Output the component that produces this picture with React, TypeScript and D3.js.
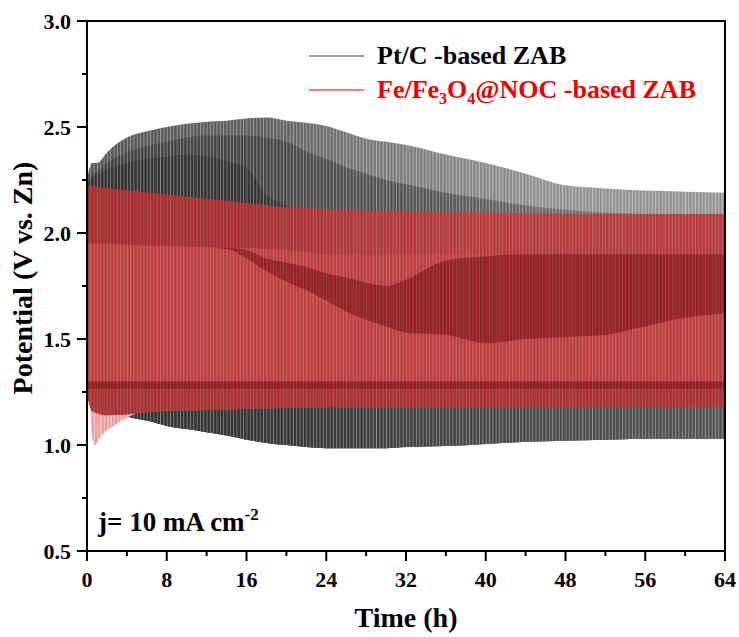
import React from "react";
import * as d3 from "d3";

// ---------- data ----------
const T = [0, 0.5, 1, 2, 4, 6, 8, 10, 12, 14, 16, 18, 20, 22, 24, 26, 28, 30, 32, 36, 40, 44, 48, 52, 56, 60, 64];

// Pt/C-based ZAB : charge maximum, light/medium boundary, medium/dark boundary, discharge minimum
const ptcHigh = [2.25, 2.33, 2.33, 2.38, 2.45, 2.48, 2.5, 2.515, 2.525, 2.53, 2.54, 2.545, 2.53, 2.52, 2.505, 2.475, 2.445, 2.43, 2.415, 2.37, 2.33, 2.28, 2.225, 2.21, 2.2, 2.195, 2.19];
const ptcMid1 = [2.22, 2.28, 2.29, 2.33, 2.38, 2.41, 2.43, 2.45, 2.46, 2.46, 2.46, 2.45, 2.43, 2.385, 2.35, 2.31, 2.28, 2.25, 2.23, 2.19, 2.16, 2.13, 2.11, 2.095, 2.09, 2.09, 2.09];
const ptcMid2 = [2.2, 2.26, 2.27, 2.3, 2.33, 2.35, 2.36, 2.37, 2.36, 2.34, 2.31, 2.18, 2.13, 2.05, 2.0, 2.0, 2.0, 2.0, 2.0, 2.0, 2.0, 2.0, 2.0, 2.0, 2.0, 2.0, 2.0];
const ptcLow = [1.25, 1.22, 1.2, 1.17, 1.135, 1.115, 1.09, 1.075, 1.06, 1.045, 1.025, 1.01, 1.0, 0.99, 0.985, 0.985, 0.985, 0.985, 0.99, 0.995, 1.005, 1.015, 1.02, 1.025, 1.03, 1.03, 1.03];

// Fe/Fe3O4@NOC-based ZAB : charge maximum, discharge minimum and inner bands
const feHigh = [2.22, 2.22, 2.215, 2.21, 2.2, 2.19, 2.18, 2.17, 2.16, 2.15, 2.14, 2.13, 2.12, 2.115, 2.11, 2.107, 2.105, 2.102, 2.1, 2.097, 2.095, 2.092, 2.09, 2.09, 2.09, 2.09, 2.09];
const feLow = [1.24, 1.16, 1.15, 1.14, 1.145, 1.155, 1.16, 1.163, 1.165, 1.168, 1.17, 1.172, 1.174, 1.176, 1.178, 1.178, 1.178, 1.178, 1.178, 1.178, 1.178, 1.178, 1.178, 1.178, 1.178, 1.178, 1.178];
const feTopBandLow = [1.95, 1.95, 1.95, 1.95, 1.945, 1.94, 1.94, 1.935, 1.935, 1.93, 1.93, 1.925, 1.92, 1.91, 1.9, 1.9, 1.9, 1.9, 1.9, 1.9, 1.9, 1.9, 1.9, 1.9, 1.9, 1.9, 1.9];
const feDarkTop = [1.93, 1.93, 1.93, 1.93, 1.93, 1.93, 1.93, 1.93, 1.93, 1.93, 1.92, 1.88, 1.86, 1.84, 1.81, 1.79, 1.765, 1.75, 1.78, 1.87, 1.89, 1.9, 1.9, 1.9, 1.9, 1.9, 1.9];
const feDarkBot = [1.93, 1.93, 1.93, 1.93, 1.93, 1.93, 1.93, 1.93, 1.93, 1.925, 1.88, 1.82, 1.77, 1.73, 1.68, 1.63, 1.59, 1.56, 1.53, 1.52, 1.48, 1.5, 1.51, 1.52, 1.56, 1.6, 1.62];
const fePlateauTop = [1.3, 1.3, 1.3, 1.3, 1.3, 1.3, 1.3, 1.3, 1.3, 1.3, 1.3, 1.3, 1.3, 1.3, 1.3, 1.3, 1.3, 1.3, 1.3, 1.3, 1.3, 1.3, 1.3, 1.3, 1.3, 1.3, 1.3];
const fePlateauBot = [1.265, 1.265, 1.265, 1.265, 1.265, 1.265, 1.265, 1.265, 1.265, 1.265, 1.265, 1.265, 1.265, 1.265, 1.265, 1.265, 1.265, 1.265, 1.265, 1.265, 1.265, 1.265, 1.265, 1.265, 1.265, 1.265, 1.265];

// early discharge spikes of the Fe/Fe3O4@NOC cell
const spikeT = [0.3, 0.5, 0.8, 1.2, 2, 3, 4, 5];
const spikeLow = [1.2, 1.05, 1.0, 1.03, 1.07, 1.1, 1.13, 1.15];
const spikeTop = [1.22, 1.17, 1.155, 1.15, 1.14, 1.143, 1.145, 1.15];

const xTicks = [0, 8, 16, 24, 32, 40, 48, 56, 64];
const xMinor = [4, 12, 20, 28, 36, 44, 52, 60];
const yTicks = [0.5, 1.0, 1.5, 2.0, 2.5, 3.0];
const yMinor = [0.75, 1.25, 1.75, 2.25, 2.75];

const seriesNames = ["Pt/C -based ZAB", "Fe/Fe3O4@NOC -based ZAB"];

// ---------- layout ----------
const W = 739, H = 637;
const L = 87, R = 725, TOP = 21, BOT = 551;
const FONT = "'Liberation Serif', 'Times New Roman', serif";

export default function App() {
  const x = d3.scaleLinear().domain([0, 64]).range([L, R]);
  const y = d3.scaleLinear().domain([0.5, 3.0]).range([BOT, TOP]);

  const band = (lo: number[], hi: number[], ts: number[] = T) =>
    d3.area<number>()
      .x((_, i) => x(ts[i]))
      .y0((_, i) => y(lo[i]))
      .y1((_, i) => y(hi[i]))
      .curve(d3.curveMonotoneX)(ts.map((_, i) => i)) || "";

  const period = (x(64) - x(0)) / 192;

  const gx = (t: number) => ((x(t) - L) / (R - L)) * 100 + "%";

  return (
    <svg width={W} height={H} style={{ position: "absolute", left: 0, top: 0, background: "#fff" }} fontFamily={FONT}>
      <defs>
        <clipPath id="plot"><rect x={L} y={TOP} width={R - L} height={BOT - TOP} /></clipPath>
        <linearGradient id="gLight" gradientUnits="userSpaceOnUse" x1={L} x2={R} y1={0} y2={0}>
          <stop offset={gx(0)} stopColor="#5c5c5c" />
          <stop offset={gx(18)} stopColor="#646464" />
          <stop offset={gx(26)} stopColor="#7a7a7a" />
          <stop offset={gx(34)} stopColor="#888888" />
          <stop offset={gx(46)} stopColor="#989898" />
          <stop offset={gx(64)} stopColor="#9b9b9b" />
        </linearGradient>
        <linearGradient id="gMid" gradientUnits="userSpaceOnUse" x1={L} x2={R} y1={0} y2={0}>
          <stop offset={gx(0)} stopColor="#454545" />
          <stop offset={gx(18)} stopColor="#4a4a4a" />
          <stop offset={gx(26)} stopColor="#545454" />
          <stop offset={gx(36)} stopColor="#5d5d5d" />
          <stop offset={gx(46)} stopColor="#707070" />
          <stop offset={gx(64)} stopColor="#737373" />
        </linearGradient>
        <linearGradient id="gDark" gradientUnits="userSpaceOnUse" x1={L} x2={R} y1={0} y2={0}>
          <stop offset={gx(0)} stopColor="#363636" />
          <stop offset={gx(20)} stopColor="#383838" />
          <stop offset={gx(30)} stopColor="#434343" />
          <stop offset={gx(44)} stopColor="#4d4d4d" />
          <stop offset={gx(64)} stopColor="#565656" />
        </linearGradient>
        <linearGradient id="gRedTop" gradientUnits="userSpaceOnUse" x1={L} x2={R} y1={0} y2={0}>
          <stop offset={gx(0)} stopColor="#9e3333" />
          <stop offset={gx(16)} stopColor="#a03535" />
          <stop offset={gx(24)} stopColor="#aa4040" />
          <stop offset={gx(40)} stopColor="#b24545" />
          <stop offset={gx(64)} stopColor="#b24545" />
        </linearGradient>
        <pattern id="pGray" patternUnits="userSpaceOnUse" x={L} y={0} width={period} height={10}>
          <rect x={0} y={0} width={0.75} height={10} fill="#ffffff" opacity={0.42} />
          <rect x={1.7} y={0} width={0.6} height={10} fill="#000000" opacity={0.12} />
        </pattern>
        <pattern id="pRed" patternUnits="userSpaceOnUse" x={L} y={0} width={period} height={10}>
          <rect x={0} y={0} width={0.7} height={10} fill="#ffffff" opacity={0.2} />
          <rect x={1.6} y={0} width={0.9} height={10} fill="#d01818" opacity={0.5} />
        </pattern>
        <pattern id="pPink" patternUnits="userSpaceOnUse" x={L} y={0} width={period} height={10}>
          <rect x={0} y={0} width={1.4} height={10} fill="#ffffff" opacity={0.55} />
        </pattern>
      </defs>

      <g clipPath="url(#plot)">
        {/* Pt/C-based ZAB */}
        <path d={band(ptcLow, ptcHigh)} fill="url(#gLight)" />
        <path d={band(ptcLow, ptcMid1)} fill="url(#gMid)" />
        <path d={band(ptcLow, ptcMid2)} fill="url(#gDark)" />
        <path d={band(ptcLow, ptcHigh)} fill="url(#pGray)" />

        {/* Fe/Fe3O4@NOC-based ZAB */}
        <path d={band(spikeLow, spikeTop, spikeT)} fill="#ee9494" />
        <path d={band(spikeLow, spikeTop, spikeT)} fill="url(#pPink)" />
        <path d={band(feLow, feHigh)} fill="#ba4a4a" />
        <path d={band(feTopBandLow, feHigh)} fill="url(#gRedTop)" />
        <path d={band(feDarkBot, feDarkTop)} fill="#8a2424" />
        <path d={band(feLow, fePlateauBot)} fill="#a13838" />
        <path d={band(fePlateauBot, fePlateauTop)} fill="#862020" />
        <path d={band(feLow, feHigh)} fill="url(#pRed)" />
      </g>

      {/* frame */}
      <rect x={L} y={TOP} width={R - L} height={BOT - TOP} fill="none" stroke="#000" strokeWidth={2} />

      {/* x axis ticks */}
      {xTicks.map((t) => (
        <g key={"xt" + t}>
          <line x1={x(t)} x2={x(t)} y1={BOT} y2={BOT + 10} stroke="#000" strokeWidth={2} />
          <text x={x(t)} y={587} textAnchor="middle" fontSize={22} fontWeight="bold">{t}</text>
        </g>
      ))}
      {xMinor.map((t) => (
        <line key={"xm" + t} x1={x(t)} x2={x(t)} y1={BOT} y2={BOT + 5} stroke="#000" strokeWidth={2} />
      ))}

      {/* y axis ticks */}
      {yTicks.map((v) => (
        <g key={"yt" + v}>
          <line x1={L - 10} x2={L} y1={y(v)} y2={y(v)} stroke="#000" strokeWidth={2} />
          <text x={71} y={y(v) + 7.5} textAnchor="end" fontSize={22} fontWeight="bold">{v.toFixed(1)}</text>
        </g>
      ))}
      {yMinor.map((v) => (
        <line key={"ym" + v} x1={L - 5} x2={L} y1={y(v)} y2={y(v)} stroke="#000" strokeWidth={2} />
      ))}

      {/* axis titles */}
      <text x={(L + R) / 2} y={627} textAnchor="middle" fontSize={28} fontWeight="bold">Time (h)</text>
      <text transform={`translate(32, ${(TOP + BOT) / 2 - 8}) rotate(-90)`} textAnchor="middle" fontSize={28} fontWeight="bold">
        Potential (V vs. Zn)
      </text>

      {/* annotation */}
      <text x={98} y={531} fontSize={27} fontWeight="bold">
        j= 10 mA cm<tspan fontSize={17} dy={-11}>-2</tspan>
      </text>

      {/* legend */}
      <line x1={309} x2={364} y1={56} y2={56} stroke="#3a3a3a" strokeWidth={1.2} />
      <text x={377} y={64} fontSize={26} fontWeight="bold" fill="#000">{seriesNames[0]}</text>
      <line x1={309} x2={364} y1={90} y2={90} stroke="#e00000" strokeWidth={1.2} />
      <text x={377} y={98} fontSize={26} fontWeight="bold" fill="#ee0000">
        Fe/Fe<tspan fontSize={16} dy={6}>3</tspan><tspan dy={-6}>O</tspan><tspan fontSize={16} dy={6}>4</tspan><tspan dy={-6}>@NOC -based ZAB</tspan>
      </text>
    </svg>
  );
}
